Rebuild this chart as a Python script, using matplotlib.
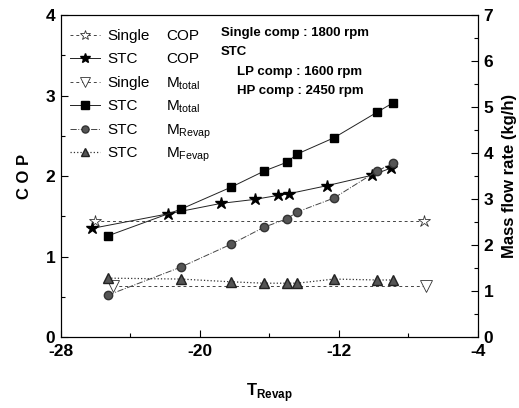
import matplotlib
matplotlib.use("Agg")
import matplotlib.pyplot as plt
from matplotlib.ticker import MultipleLocator

plt.rcParams['font.family'] = ['Liberation Sans', 'DejaVu Sans']
plt.rcParams['axes.unicode_minus'] = False

# Data
single_cop_x = [-26.05, -7.1]
single_cop_y = [1.44, 1.44]

stc_cop_x = [-26.2, -21.85, -18.8, -16.85, -15.5, -14.9, -12.7, -10.1, -9.0]
stc_cop_y = [1.35, 1.53, 1.66, 1.71, 1.76, 1.78, 1.88, 2.01, 2.10]

single_mtot_x = [-25.0, -7.0]
single_mtot_y = [1.1, 1.1]

stc_x = [-25.3, -21.1, -18.2, -16.3, -15.0, -14.4, -12.3, -9.8, -8.9]
stc_mtot = [2.20, 2.78, 3.26, 3.61, 3.80, 3.98, 4.33, 4.89, 5.09]
stc_mrevap = [0.91, 1.52, 2.02, 2.39, 2.57, 2.72, 3.02, 3.61, 3.78]
stc_mfevap = [1.28, 1.26, 1.20, 1.17, 1.17, 1.17, 1.26, 1.24, 1.24]

x_ticks = [-28, -20, -12, -4]

legend_first = ['Single', 'STC', 'Single', 'STC', 'STC', 'STC']
legend_second = ['COP', 'COP', r'M$_{\mathregular{total}}$', r'M$_{\mathregular{total}}$',
                 r'M$_{\mathregular{Revap}}$', r'M$_{\mathregular{Fevap}}$']

fig = plt.figure(figsize=(5.19, 4.08), dpi=100)
ax = fig.add_axes([0.1175, 0.174, 0.8035, 0.789])
ax2 = ax.twinx()

lw = 0.7
s1 = dict(linestyle=(0, (3, 3)), color='#444444', lw=lw,
          marker='*', ms=9, mfc='white', mec='#333333', mew=0.6)
s2 = dict(linestyle='-', color='#222222', lw=lw,
          marker='*', ms=9, mfc='black', mec='black')
s3 = dict(linestyle=(0, (3, 3)), color='#444444', lw=lw,
          marker='v', ms=8, mfc='white', mec='#333333', mew=0.6)
s4 = dict(linestyle='-', color='#222222', lw=lw,
          marker='s', ms=6, mfc='black', mec='black')
s5 = dict(linestyle='-.', color='#444444', lw=lw,
          marker='o', ms=6, mfc='#555555', mec='#333333')
s6 = dict(linestyle=':', color='#333333', lw=0.9,
          marker='^', ms=7, mfc='#555555', mec='#222222')

l1, = ax.plot(single_cop_x, single_cop_y, **s1)
l2, = ax.plot(stc_cop_x, stc_cop_y, **s2)
l3, = ax2.plot(single_mtot_x, single_mtot_y, **s3)
l4, = ax2.plot(stc_x, stc_mtot, **s4)
l5, = ax2.plot(stc_x, stc_mrevap, **s5)
l6, = ax2.plot(stc_x, stc_mfevap, **s6)

ax.set_xlim(-28, -4)
ax.set_ylim(0, 4)
ax2.set_ylim(0, 7)
ax.set_xticks(x_ticks)
ax.xaxis.set_minor_locator(MultipleLocator(4))
ax.yaxis.set_major_locator(MultipleLocator(1))
ax.yaxis.set_minor_locator(MultipleLocator(0.5))
ax2.yaxis.set_major_locator(MultipleLocator(1))
ax2.yaxis.set_minor_locator(MultipleLocator(0.5))

for a in (ax, ax2):
    a.tick_params(which='major', direction='in', length=5, width=0.8, labelsize=12.5)
    a.tick_params(which='minor', direction='in', length=3, width=0.8)
    for lab in a.get_xticklabels() + a.get_yticklabels():
        lab.set_fontweight('bold')
ax.tick_params(axis='x', pad=5)
ax.tick_params(axis='y', pad=4)
ax2.tick_params(axis='y', pad=4)

ax.set_ylabel('C O P', fontsize=12, fontweight='bold', labelpad=10)
ax2.set_ylabel('Mass flow rate (kg/h)', fontsize=12, fontweight='bold', labelpad=6)
ax.set_xlabel(r'T$_{\mathregular{Revap}}$', fontsize=12, fontweight='bold', labelpad=16)

# Legend: handles + first word; second word aligned afterwards
leg = ax.legend([l1, l2, l3, l4, l5, l6], legend_first, loc='upper left',
                bbox_to_anchor=(-0.005, 0.99), frameon=False, fontsize=11,
                handlelength=2.0, handletextpad=0.5, labelspacing=0.62,
                borderaxespad=0.3, markerscale=0.85)

txt_kw = dict(transform=ax.transAxes, fontsize=9.5, fontweight='bold', va='center', ha='left')
ax.text(0.384, 0.943, 'Single comp : 1800 rpm', **txt_kw)
ax.text(0.384, 0.884, 'STC', **txt_kw)
ax.text(0.422, 0.822, 'LP comp : 1600 rpm', **txt_kw)
ax.text(0.422, 0.763, 'HP comp : 2450 rpm', **txt_kw)

fig.canvas.draw()
inv = fig.transFigure.inverted()
col2_x_px = 166  # pixel x of second legend column
for t, s in zip(leg.get_texts(), legend_second):
    bx, by = t.get_transform().transform(t.get_position())
    fx, fy = inv.transform((col2_x_px, by))
    fig.text(fx, fy, s, fontsize=11, va='baseline', ha='left')

fig.savefig('out.png', dpi=100)
